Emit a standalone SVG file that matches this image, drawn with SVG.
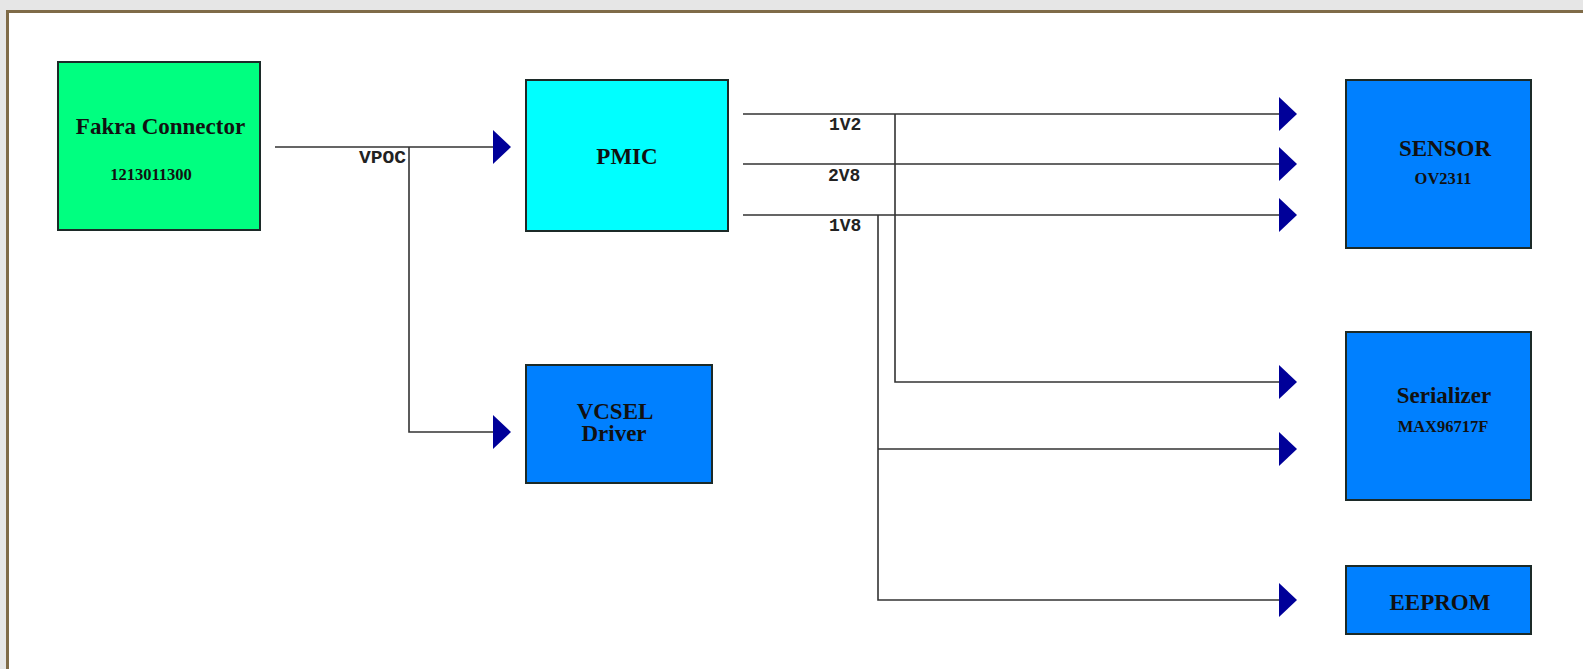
<svg xmlns="http://www.w3.org/2000/svg" width="1583" height="669" viewBox="0 0 1583 669">
<style>
.box{stroke:#1c2a28;stroke-width:2}
.blue{fill:#0080ff}
.t{font-family:"Liberation Serif","Times New Roman",serif;font-weight:bold;fill:#111;text-anchor:middle}
.h{font-size:23px}
.s{font-size:16.5px}
.lbl{font-family:"Liberation Mono","Courier New",monospace;font-weight:bold;font-size:18px;fill:#222}
.w{stroke:#333;stroke-width:1.6;fill:none}
.arr{fill:#000099}
</style>
<defs>
<polygon id="ah" points="0,-17 18,0 0,17"/>
</defs>
<rect x="0" y="0" width="1583" height="669" fill="#e6e6e6"/>
<rect x="7.5" y="11.5" width="1600" height="700" fill="#ffffff" stroke="#7f6b48" stroke-width="3"/>

<g id="fakra">
<rect class="box" x="58" y="62" width="202" height="168" fill="#00ff80"/>
<text class="t h" x="160.5" y="134">Fakra Connector</text>
<text class="t s" x="151" y="180">1213011300</text>
</g>
<g id="pmic">
<rect class="box" x="526" y="80" width="202" height="151" fill="#00ffff"/>
<text class="t h" x="627" y="164">PMIC</text>
</g>
<g id="vcsel">
<rect class="box blue" x="526" y="365" width="186" height="118"/>
<text class="t h" x="615" y="419">VCSEL</text>
<text class="t h" x="614" y="441">Driver</text>
</g>
<g id="sensor">
<rect class="box blue" x="1346" y="80" width="185" height="168"/>
<text class="t h" x="1445" y="156">SENSOR</text>
<text class="t s" x="1443" y="184">OV2311</text>
</g>
<g id="serializer">
<rect class="box blue" x="1346" y="332" width="185" height="168"/>
<text class="t h" x="1444" y="403">Serializer</text>
<text class="t s" x="1443" y="432">MAX96717F</text>
</g>
<g id="eeprom">
<rect class="box blue" x="1346" y="566" width="185" height="68"/>
<text class="t h" x="1440" y="610">EEPROM</text>
</g>

<g id="connectors">
<path class="w" d="M275,147 H493 M409,147 V432 H493"/>
<path class="w" d="M743,114 H1279 M743,164 H1279 M743,215 H1279"/>
<path class="w" d="M895,114 V382 H1279"/>
<path class="w" d="M878,215 V600 H1279 M878,449 H1279"/>
<use href="#ah" class="arr" x="493" y="147"/>
<use href="#ah" class="arr" x="493" y="432"/>
<use href="#ah" class="arr" x="1279" y="114"/>
<use href="#ah" class="arr" x="1279" y="164"/>
<use href="#ah" class="arr" x="1279" y="215"/>
<use href="#ah" class="arr" x="1279" y="382"/>
<use href="#ah" class="arr" x="1279" y="449"/>
<use href="#ah" class="arr" x="1279" y="600"/>
<text class="lbl" x="406" y="163" text-anchor="end" textLength="47" lengthAdjust="spacingAndGlyphs">VPOC</text>
<text class="lbl" x="829" y="130">1V2</text>
<text class="lbl" x="828" y="181">2V8</text>
<text class="lbl" x="829" y="231">1V8</text>
</g>
</svg>
